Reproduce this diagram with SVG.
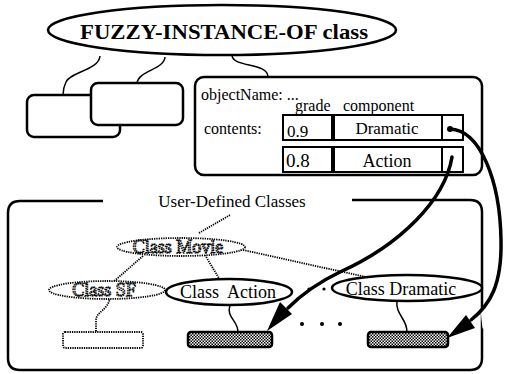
<svg xmlns="http://www.w3.org/2000/svg" width="505" height="374" viewBox="0 0 505 374">
  <style>
    text { font-family: "Liberation Serif", "DejaVu Serif", "Noto Serif", Tinos, serif; }
    .serif { fill: #000; }
    .solid { fill: #fff; stroke: #000; stroke-width: 2.5; }
    .thin { fill: none; stroke: #000; stroke-width: 1.5; }
    .dotted { fill: none; stroke: #000; stroke-width: 1.8; stroke-dasharray: 1.3 1; }
    .dotfill { fill: #fff; stroke: #000; stroke-width: 1.8; stroke-dasharray: 1.3 1; }
    .ghost { fill: #fff; stroke: #000; stroke-width: 1.3; stroke-dasharray: 1.6 0.7; }
    .cell { fill: #fff; stroke: #000; stroke-width: 2; }
    .arrow { fill: none; stroke: #000; stroke-width: 3.5; stroke-linecap: round; }
    .hatched { fill: url(#stipple); stroke: #000; stroke-width: 2.5; }
  </style>
  <defs>
    <pattern id="stipple" width="3" height="3" patternUnits="userSpaceOnUse">
      <rect width="3" height="3" fill="#fff"/>
      <rect x="0" y="0" width="1.5" height="1.5" fill="#000"/>
      <rect x="1.5" y="1.5" width="1.5" height="1.5" fill="#000"/>
    </pattern>
  </defs>

  <rect width="505" height="374" fill="#fff"/>

  <!-- connectors -->
  <g id="connectors">
    <path class="thin" stroke-width="2.5" d="M100,56 C99,70 70,72 66,82 C63,88 63,92 63,95"/>
    <path class="thin" stroke-width="2.5" d="M165,57 C164,70 139,70 137,83"/>
    <path class="thin" stroke-width="2.5" d="M232,55 C232,68 268,62 268,77"/>
    <path class="dotted" stroke-width="2" stroke-dasharray="3 4" d="M199,233 L230,215"/>
    <path class="dotted" d="M143,256 L112,283"/>
    <path class="dotted" d="M205,255 L220,280"/>
    <path class="dotted" d="M243,250 L366,277"/>
    <path class="dotted" d="M110,298 C108,310 96,312 96,320 L96,332"/>
    <path class="thin" d="M230,305 C226,318 238,320 238,332"/>
    <path class="thin" d="M397,300 C395,315 407,318 407,332"/>
  </g>

  <!-- top class ellipse -->
  <g id="fuzzy-instance-of">
    <ellipse class="solid" cx="222" cy="30" rx="174" ry="25" stroke-width="3.5"/>
    <text class="serif" x="224" y="39" font-size="22" font-weight="bold" text-anchor="middle" textLength="288" lengthAdjust="spacingAndGlyphs">FUZZY-INSTANCE-OF class</text>
  </g>

  <!-- stacked instance boxes -->
  <g id="instance-back">
    <rect class="solid" x="27" y="95" width="93" height="42" rx="7"/>
  </g>
  <g id="instance-front">
    <rect class="solid" x="91" y="83" width="92" height="42" rx="7"/>
  </g>

  <!-- detailed instance -->
  <g id="instance-detail">
    <rect class="solid" x="195" y="77" width="287" height="98" rx="9"/>
    <text class="serif" x="201" y="100" font-size="16">objectName: ...</text>
    <text class="serif" x="295" y="111" font-size="16">grade</text>
    <text class="serif" x="343" y="111" font-size="16">component</text>
    <text class="serif" x="204" y="134" font-size="16">contents:</text>
    <rect class="cell" x="283" y="115" width="50" height="25"/>
    <rect class="cell" x="333" y="115" width="109" height="25"/>
    <rect class="cell" x="442" y="115" width="21" height="25"/>
    <line x1="333" y1="115" x2="333" y2="140" stroke="#000" stroke-width="4"/>
    <rect class="cell" x="283" y="147" width="50" height="25"/>
    <rect class="cell" x="333" y="147" width="109" height="25"/>
    <rect class="cell" x="442" y="147" width="21" height="25"/>
    <line x1="333" y1="147" x2="333" y2="172" stroke="#000" stroke-width="4"/>
    <text class="serif" x="287" y="137" font-size="17">0.9</text>
    <text class="serif" x="387" y="134" font-size="17" text-anchor="middle">Dramatic</text>
    <text class="serif" x="286" y="167" font-size="19">0.8</text>
    <text class="serif" x="387" y="167" font-size="18" text-anchor="middle">Action</text>
  </g>

  <!-- user-defined classes frame -->
  <g id="user-defined-classes">
    <path fill="none" stroke="#000" stroke-width="2.5" d="M103,201 H20 Q8,201 8,213 V358 Q8,370 20,370 H470 Q482,370 482,358 V212 Q482,200 470,200 H352"/>
    <text class="serif" x="232" y="207" font-size="17" text-anchor="middle">User-Defined Classes</text>
  </g>

  <g id="class-movie">
    <ellipse class="dotfill" cx="181" cy="247" rx="64" ry="9"/>
    <text class="ghost" x="178" y="253" font-size="18" text-anchor="middle">Class Movie</text>
  </g>

  <g id="class-sf">
    <ellipse class="dotfill" cx="107" cy="290" rx="58" ry="9"/>
    <text class="ghost" x="104" y="296" font-size="18" text-anchor="middle">Class SF</text>
  </g>

  <g id="class-action">
    <ellipse class="solid" cx="229" cy="292" rx="63" ry="13"/>
    <text class="serif" x="228" y="298" font-size="18" text-anchor="middle" xml:space="preserve">Class  Action</text>
  </g>

  <g id="class-dramatic">
    <ellipse class="solid" cx="407" cy="288" rx="75" ry="13"/>
    <text class="serif" x="401" y="295" font-size="18" text-anchor="middle">Class Dramatic</text>
  </g>

  <g id="sf-instances">
    <rect class="dotfill" x="63" y="332" width="80" height="16" rx="2"/>
  </g>
  <g id="action-instances">
    <rect class="hatched" x="188" y="332" width="84" height="15" rx="3"/>
  </g>
  <g id="dramatic-instances">
    <rect class="hatched" x="368" y="332" width="80" height="15" rx="3"/>
  </g>

  <!-- ellipsis marks -->
  <g id="ellipses" fill="#000">
    <circle cx="309" cy="289" r="1.6"/>
    <circle cx="324" cy="289" r="1.6"/>
    <circle cx="302" cy="324" r="2"/>
    <circle cx="322" cy="324" r="2"/>
    <circle cx="340" cy="324" r="2"/>
  </g>

  <!-- references from the contents cells into the classes -->
  <g id="references">
    <circle cx="450" cy="129" r="3" fill="#000"/>
    <path d="M484,310 L486,328" stroke="#fff" stroke-width="7"/>
    <path class="arrow" d="M450,129 C480,130 500,180 501,240 C502,285 490,305 471,320"/>
    <polygon points="447,338 475,328 466,315" fill="#000"/>
    <path class="arrow" d="M452,157 C445,200 400,245 340,272 C315,284 300,296 288,308"/>
    <polygon points="267,331 292,314 280,302" fill="#000"/>
  </g>
</svg>
